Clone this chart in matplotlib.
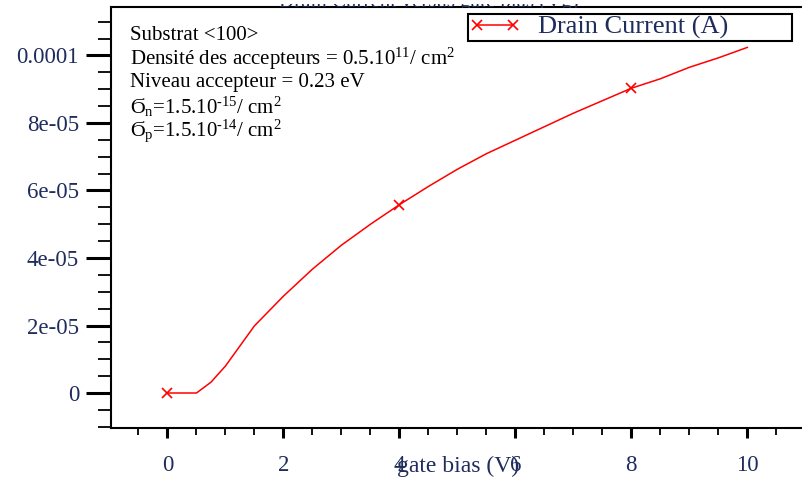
import matplotlib
matplotlib.use('Agg')
import matplotlib.pyplot as plt
from matplotlib.ticker import FixedLocator, FixedFormatter, MultipleLocator
from matplotlib.transforms import Bbox

# data (gate bias in V, drain current in A)
gate_bias = [0.0, 0.25, 0.5, 0.75, 1.0, 1.5, 2.0, 2.5, 3.0, 3.5, 4.0, 4.5, 5.0,
             5.5, 6.0, 6.5, 7.0, 7.5, 8.0, 8.5, 9.0, 9.5, 10.0]
drain_current = [0.0, 0.0, 0.0, 0.32e-5, 0.80e-5, 1.99e-5, 2.87e-5, 3.67e-5,
                 4.38e-5, 5.00e-5, 5.58e-5, 6.12e-5, 6.63e-5, 7.09e-5, 7.49e-5,
                 7.89e-5, 8.29e-5, 8.66e-5, 9.03e-5, 9.31e-5, 9.65e-5, 9.93e-5,
                 1.024e-4]
marker_bias = [0.0, 4.0, 8.0]

x_ticks = [0, 2, 4, 6, 8, 10]
x_ticklabels = ['0', '2', '4', '6', '8', '10']
y_ticks = [0, 2e-5, 4e-5, 6e-5, 8e-5, 1e-4]
y_ticklabels = ['0', '2e-05', '4e-05', '6e-05', '8e-05', '0.0001']

notes = ['Substrat <100>',
         'Densité des accepteurs = 0.5.10$^{11}$/ cm$^{2}$',
         'Niveau accepteur = 0.23 eV',
         'Ϭ$_{n}$=1.5.10$^{\u2010 15}$/ cm$^{2}$',
         'Ϭ$_{p}$=1.5.10$^{\u2010 14}$/ cm$^{2}$']

plt.rcParams['font.family'] = ['Liberation Serif', 'DejaVu Serif']
plt.rcParams['mathtext.fontset'] = 'custom'
plt.rcParams['mathtext.rm'] = 'Liberation Serif'
plt.rcParams['mathtext.default'] = 'regular'

W, H = 803, 479
label_col = '#1f2c5c'

fig = plt.figure(figsize=(W / 100, H / 100), dpi=100)
# axes box in pixels: left 111, right off the picture, top 7, bottom 428
ax = fig.add_axes([111 / W, (H - 428) / H, (W - 111) / W, (428 - 7) / H])

mk = [gate_bias.index(v) for v in marker_bias]
ax.plot(gate_bias, drain_current, color='red', lw=1.1, marker='x', ms=7,
        mew=1.2, markevery=mk, label='Drain Current (A)')

ax.set_xlim(-0.974, 10.96)
ax.set_ylim(-1.037e-5, 1.1437e-4)

ax.xaxis.set_major_locator(FixedLocator(x_ticks))
ax.xaxis.set_major_formatter(FixedFormatter(x_ticklabels))
ax.xaxis.set_minor_locator(MultipleLocator(0.5))
ax.yaxis.set_major_locator(FixedLocator(y_ticks))
ax.yaxis.set_major_formatter(FixedFormatter(y_ticklabels))
ax.yaxis.set_minor_locator(MultipleLocator(0.5e-5))

ax.tick_params(axis='x', which='major', length=7.5, width=2.2, pad=12,
               labelsize=16.5, labelcolor=label_col)
ax.tick_params(axis='x', which='minor', length=5, width=1.3)
ax.tick_params(axis='y', which='major', length=18, width=2.2, pad=5,
               labelsize=16.5, labelcolor=label_col)
ax.tick_params(axis='y', which='minor', length=9.5, width=1.3)

ax.spines['right'].set_visible(False)
for s in ['left', 'bottom', 'top']:
    ax.spines[s].set_linewidth(1.5)

# axis label sits on top of the 4 and 6 tick labels, like the original
ax.set_xlabel('gate bias (V)', fontsize=17, color=label_col)
ax.xaxis.set_label_coords(0.501, -0.066)

# legend box at the top right, partly above the axes frame
leg = ax.legend(loc='upper left',
                bbox_to_anchor=(468 / W, 1 - 44 / H, 324 / W, 30 / H),
                bbox_transform=fig.transFigure, mode='expand', borderaxespad=0,
                fancybox=False, framealpha=1, edgecolor='black', fontsize=19,
                numpoints=2, handlelength=1.95, handletextpad=0.65,
                borderpad=0.05, labelcolor=label_col)
leg.get_frame().set_linewidth(1.5)

# text block with the simulation parameters
for i, t in enumerate(notes):
    fig.text(130 / W, 1 - (35 + 24 * i) / H, t, fontsize=15, color='black',
             va='center', ha='left')

# title: only a thin strip of it survives above the frame
title = fig.text(429 / W, 1 - 7 / H, 'Drain Current versus gate bias (Vg)',
                 fontsize=15, color=label_col, ha='center', va='baseline')
title.set_clip_box(Bbox.from_extents(0, H - 8, W, H - 4))
title.set_clip_on(True)

fig.savefig('out.png', dpi=100)
